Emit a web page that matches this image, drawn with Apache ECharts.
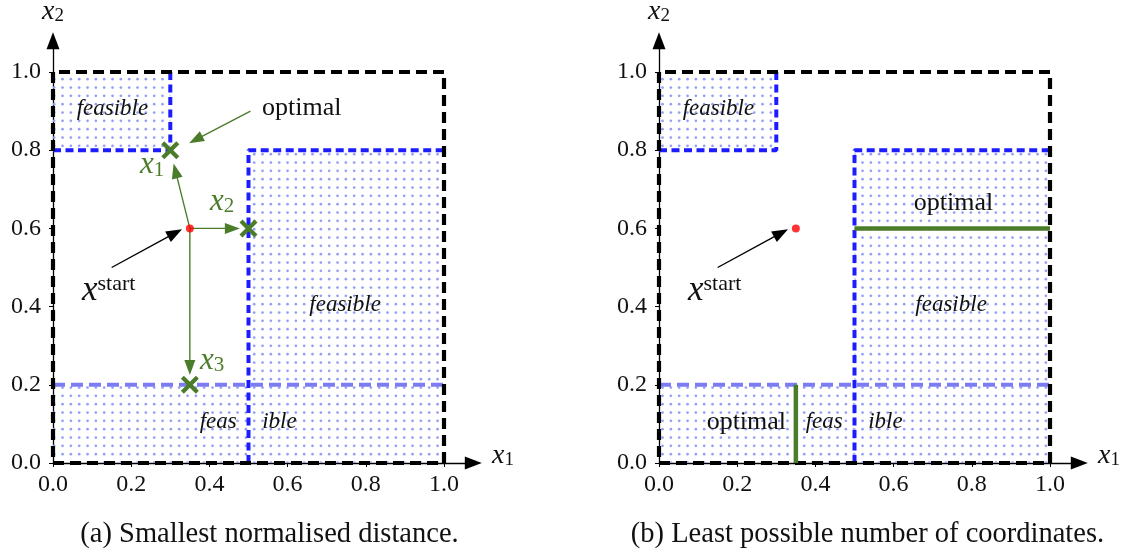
<!DOCTYPE html>
<html><head><meta charset="utf-8">
<script src="https://cdn.jsdelivr.net/npm/echarts@6/dist/echarts.min.js"></script>
<style>html,body{margin:0;padding:0;background:#fff}#c{width:1134px;height:556px}</style>
</head><body><div id="c"></div>
<script>
// ---------------- data ----------------
const tickValues = [0, 0.2, 0.4, 0.6, 0.8, 1.0];
const boxCorners = [[0,0],[1,0],[1,1],[0,1],[0,0]];
const feasibleRects = [[0,0.8,0.3,1.0],[0.5,0,1.0,0.8],[0,0,0.5,0.2]];
const strongBoundaries = [[[0.3,1.0],[0.3,0.8],[0,0.8]], [[0.5,0],[0.5,0.8],[1.0,0.8]]];
const weakBoundary = [[0,0.2],[1.0,0.2]];
const startPoint = [0.35, 0.6];
const candidatePoints = [[0.3,0.8],[0.5,0.6],[0.35,0.2]];
const candidateSubs = ['1','2','3'];
const candidateArrowTips = [[0.3085,0.766],[0.478,0.6],[0.35,0.225]];
const optimalSegments = [[0.5,0.6,1.0,0.6],[0.35,0,0.35,0.2]];
const startPointerArrow = [0.15,0.5,0.33,0.598];
const optimalPointerArrow = [0.505,0.9,0.348,0.818];
const regionWords = ['feasible','feas','ible','optimal'];
const captions = ['(a) Smallest normalised distance.','(b) Least possible number of coordinates.'];

// ---------------- layout / style ----------------
const SERIF = 'Liberation Serif';
const GREEN = '#4b7c2a';
const INK = '#111';
const L = {x0:[53,659], y0:463, unit:391, xMax:1.075, yMax:1.08};
const labelPos = {
  feasTL:[0.152,0.905], feasR:[0.747,0.404], feasL:[0.47,0.105], ibleR:[0.535,0.105],
  optA:[0.636,0.908], optB1:[0.753,0.665], optB2:[0.325,0.105],
  xstart:[0.074,0.431], cand:[[0.2225,0.753],[0.4015,0.66],[0.376,0.253]],
  x2name:[0,1.155], x1name:[1.123,0.012]
};

function makePattern(){
  const c=document.createElement('canvas'); c.width=25; c.height=25;
  const g=c.getContext('2d'); g.fillStyle='#979ff5';
  for(let i=0;i<3;i++)for(let j=0;j<3;j++){g.beginPath();g.arc(4.2+i*8.333,4.2+j*8.333,1.35,0,Math.PI*2);g.fill();}
  return c;
}
const dotPattern = {image: makePattern(), repeat:'repeat'};

function mathRich(size, color){
  const L1 = Math.round(size*1.0), h = Math.round(size*0.35);
  return {
    m:{fontFamily:SERIF,fontStyle:'italic',fontSize:size,lineHeight:L1,fill:color},
    s:{fontFamily:SERIF,fontSize:Math.round(size*0.68),lineHeight:h,verticalAlign:'bottom',fill:color},
    p:{fontFamily:SERIF,fontSize:Math.round(size*0.62),lineHeight:Math.round(size*0.45),verticalAlign:'top',fill:color}
  };
}

function textEl(api, pos, text, opt){
  const c = api.coord(pos);
  const st = {text:text, align:opt.align||'center', verticalAlign:'middle', fill:opt.color||INK,
    fontFamily:SERIF, fontSize:opt.size||23, fontStyle:opt.italic?'italic':'normal'};
  if(opt.rich) st.rich = opt.rich;
  return {type:'text', x:c[0], y:c[1]+(opt.dy||0), style:st, z2:10};
}

function rectRender(params, api){
  const p0 = api.coord([api.value(0), api.value(1)]);
  const p1 = api.coord([api.value(2), api.value(3)]);
  return {type:'rect', silent:true, shape:{x:p0[0], y:p1[1], width:p1[0]-p0[0], height:p0[1]-p1[1]}, style:{fill:dotPattern}};
}
function arrowRender(color, lw, headL, headW){
  return function(params, api){
    const a = api.coord([api.value(0), api.value(1)]), b = api.coord([api.value(2), api.value(3)]);
    const dx=b[0]-a[0], dy=b[1]-a[1], len=Math.hypot(dx,dy), ux=dx/len, uy=dy/len;
    const bx=b[0]-ux*headL, by=b[1]-uy*headL, nx=-uy, ny=ux;
    return {type:'group', children:[
      {type:'line', shape:{x1:a[0],y1:a[1],x2:bx+ux*2,y2:by+uy*2}, style:{stroke:color,lineWidth:lw}},
      {type:'polygon', shape:{points:[[b[0],b[1]],[bx+nx*headW/2,by+ny*headW/2],[bx-nx*headW/2,by-ny*headW/2]]}, style:{fill:color}}
    ]};
  };
}
function segRender(params, api){
  const a = api.coord([api.value(0), api.value(1)]), b = api.coord([api.value(2), api.value(3)]);
  return {type:'line', shape:{x1:a[0],y1:a[1],x2:b[0],y2:b[1]}, style:{stroke:GREEN,lineWidth:4.5,lineCap:'butt'}};
}
function crossRender(params, api){
  const c = api.coord([api.value(0), api.value(1)]), r=7.5;
  const st = {stroke:GREEN, lineWidth:4.2, lineCap:'butt'};
  return {type:'group', children:[
    {type:'line', shape:{x1:c[0]-r,y1:c[1]-r,x2:c[0]+r,y2:c[1]+r}, style:st},
    {type:'line', shape:{x1:c[0]-r,y1:c[1]+r,x2:c[0]+r,y2:c[1]-r}, style:st}
  ]};
}

function panelSeries(g){
  const s = [];
  const base = {xAxisIndex:g, yAxisIndex:g, animation:false, silent:true};
  s.push(Object.assign({type:'custom', renderItem:rectRender, data:feasibleRects, z:1, encode:{x:[0,2],y:[1,3]}}, base));
  s.push(Object.assign({type:'line', data:weakBoundary, symbol:'none', z:2,
    lineStyle:{color:'#7b7bf2', width:4, type:[12,6]}}, base));
  strongBoundaries.forEach(function(pl){
    s.push(Object.assign({type:'line', data:pl, symbol:'none', z:3,
      lineStyle:{color:'#1c1cff', width:4, type:[8,4.5]}}, base));
  });
  s.push(Object.assign({type:'line', data:boxCorners, symbol:'none', z:4,
    lineStyle:{color:'#000', width:4.2, type:[11,6], cap:'butt'}}, base));
  if(g===1){
    s.push(Object.assign({type:'custom', renderItem:segRender, data:optimalSegments, z:5, encode:{x:[0,2],y:[1,3]}}, base));
  } else {
    s.push(Object.assign({type:'custom', renderItem:arrowRender(GREEN,1.4,15,11),
      data:candidateArrowTips.map(function(t){return [startPoint[0],startPoint[1],t[0],t[1]];}), z:6, encode:{x:[0,2],y:[1,3]}}, base));
    s.push(Object.assign({type:'custom', renderItem:arrowRender(GREEN,1.4,15,11),
      data:[optimalPointerArrow], z:6, encode:{x:[0,2],y:[1,3]}}, base));
    s.push(Object.assign({type:'custom', renderItem:crossRender, data:candidatePoints, z:7}, base));
  }
  s.push(Object.assign({type:'custom', renderItem:arrowRender('#000',1.4,16,12),
    data:[startPointerArrow], z:6, encode:{x:[0,2],y:[1,3]}}, base));
  s.push(Object.assign({type:'scatter', data:[startPoint], symbol:'circle', symbolSize:8, z:8,
    itemStyle:{color:'#ff0000'}}, base));
  // text annotations
  s.push(Object.assign({type:'custom', z:9, data:[[0,0]], renderItem:function(params, api){
    const ch = [];
    ch.push(textEl(api, labelPos.feasTL, regionWords[0], {italic:true}));
    ch.push(textEl(api, labelPos.feasR, regionWords[0], {italic:true}));
    ch.push(textEl(api, labelPos.feasL, regionWords[1], {italic:true, align:'right'}));
    ch.push(textEl(api, labelPos.ibleR, regionWords[2], {italic:true, align:'left'}));
    ch.push(textEl(api, labelPos.xstart, '{m|x}{p|start}', {align:'left', rich:mathRich(35, INK), dy:-3.5}));
    ch.push(textEl(api, labelPos.x2name, '{m|x}{s|2}', {align:'center', rich:mathRich(28, INK)}));
    ch.push(textEl(api, labelPos.x1name, '{m|x}{s|1}', {align:'left', rich:mathRich(28, INK), dy:-3}));
    if(g===0){
      ch.push(textEl(api, labelPos.optA, regionWords[3], {size:26}));
      candidateSubs.forEach(function(sub,i){
        ch.push(textEl(api, labelPos.cand[i], '{m|x}{s|'+sub+'}', {align:'left', rich:mathRich(31, GREEN), dy:-3.3}));
      });
    } else {
      ch.push(textEl(api, labelPos.optB1, regionWords[3], {size:26}));
      ch.push(textEl(api, labelPos.optB2, regionWords[3], {size:26, align:'right'}));
    }
    return {type:'group', children:ch};
  }}, base));
  return s;
}

const grids = [0,1].map(function(g){
  return {left:L.x0[g], top:L.y0-L.unit*L.yMax, width:L.unit*L.xMax, height:L.unit*L.yMax,
    containLabel:false, outerBoundsMode:'none'};
});
function axis(g, dir){
  return {gridIndex:g, type:'value', min:0, max:dir==='x'?L.xMax:L.yMax,
    splitLine:{show:false},
    axisLine:{show:true, onZero:false, symbol:['none','triangle'], symbolSize:[13,17],
      lineStyle:{color:'#000', width:1.3}},
    axisTick:{show:true, customValues:tickValues, length:4, lineStyle:{color:'#000', width:1}},
    axisLabel:{customValues:tickValues, formatter:function(v){return v.toFixed(1);},
      fontFamily:SERIF, fontSize:24, color:INK, margin:dir==='x'?10:12,
      textStyle:{fontFamily:SERIF}}
  };
}

const chart = echarts.init(document.getElementById('c'), null, {renderer:'canvas'});
chart.setOption({
  animation:false,
  backgroundColor:'#fff',
  textStyle:{fontFamily:SERIF},
  grid:grids,
  xAxis:[axis(0,'x'), axis(1,'x')],
  yAxis:[axis(0,'y'), axis(1,'y')],
  series:panelSeries(0).concat(panelSeries(1)),
  graphic:captions.map(function(t,i){
    return {type:'text', x:[269.5,867.5][i], y:535, style:{text:t, align:'center', verticalAlign:'middle',
      fontFamily:SERIF, fontSize:28.5, fill:INK}};
  })
});
</script></body></html>
